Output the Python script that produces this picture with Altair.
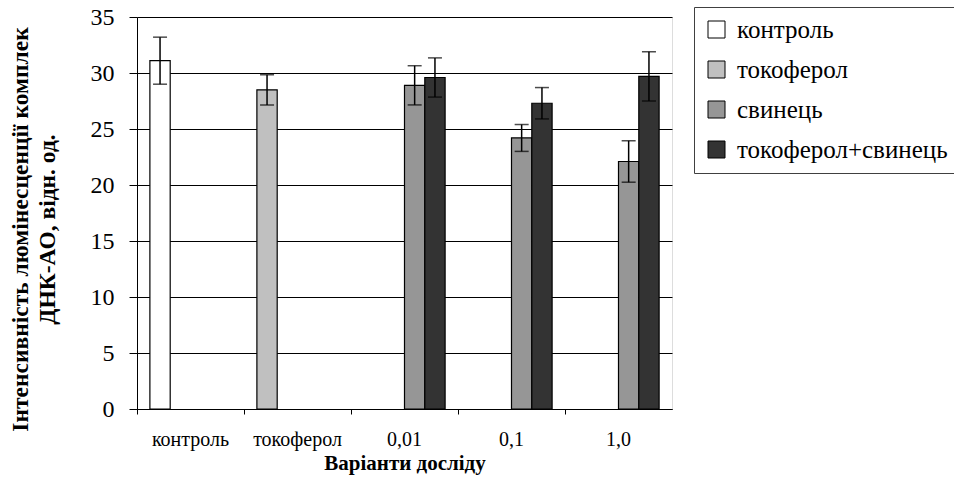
import altair as alt
import pandas as pd

# ---- data ----
categories = ["контроль", "токоферол", "0,01", "0,1", "1,0"]
series_names = ["контроль", "токоферол", "свинець", "токоферол+свинець"]
series_colors = ["#FFFFFF", "#C0C0C0", "#969696", "#333333"]
slot_names = ["a", "b", "c", "d"]

bar_category = ["контроль", "токоферол", "0,01", "0,01", "0,1", "0,1", "1,0", "1,0"]
bar_series = ["контроль", "токоферол", "свинець", "токоферол+свинець",
              "свинець", "токоферол+свинець", "свинець", "токоферол+свинець"]
bar_slot = ["a", "a", "c", "d", "c", "d", "c", "d"]
bar_value = [31.1, 28.5, 28.9, 29.6, 24.2, 27.3, 22.1, 29.7]
bar_error = [2.1, 1.35, 1.75, 1.75, 1.2, 1.4, 1.85, 2.2]

y_ticks = [0, 5, 10, 15, 20, 25, 30, 35]
y_title = ["Інтенсивність люмінесценції комплек", "ДНК-АО, відн. од."]
x_title = "Варіанти досліду"

df = pd.DataFrame({
    "cat": bar_category,
    "series": bar_series,
    "slot": bar_slot,
    "value": bar_value,
    "err": bar_error,
})
df["lo"] = df["value"] - df["err"]
df["hi"] = df["value"] + df["err"]

FONT = "Liberation Serif, Times New Roman, serif"

yscale = alt.Scale(domain=[0, 35], nice=False, zero=True)
yaxis = alt.Axis(
    values=y_ticks, grid=True, gridColor="#000000", gridWidth=1,
    tickSize=8, tickColor="#000000", domainColor="#000000",
    labelFont=FONT, labelFontSize=24, labelPadding=15, labelColor="#000000",
    title=y_title, titleFont=FONT, titleFontSize=23.5, titleFontWeight="bold",
    titleColor="#000000", titleAngle=-90, titleAlign="center",
    titleBaseline="alphabetic", titleLineHeight=27, titleX=-110, titleY=212,
)
xaxis = alt.Axis(
    labelAngle=0, bandPosition=0, tickSize=5, tickColor="#000000",
    domainColor="#000000", grid=False,
    labelFont=FONT, labelFontSize=20, labelColor="#000000",
    labelBaseline="alphabetic", labelPadding=31,
    title=x_title, titleFont=FONT, titleFontSize=21, titleFontWeight="bold",
    titleColor="#000000", titleBaseline="alphabetic", titleY=60,
)

base = alt.Chart(df).encode(
    x=alt.X("cat:N", sort=categories,
            scale=alt.Scale(domain=categories, paddingInner=0, paddingOuter=0),
            axis=xaxis),
    xOffset=alt.XOffset("slot:N",
                        scale=alt.Scale(domain=slot_names, paddingInner=0,
                                        paddingOuter=0.635)),
)

bars = base.mark_bar(stroke="#000000", strokeWidth=1.2).encode(
    y=alt.Y("value:Q", scale=yscale, axis=yaxis, title=y_title),
    color=alt.Color(
        "series:N",
        scale=alt.Scale(domain=series_names, range=series_colors),
        legend=alt.Legend(
            title=None, orient="none", legendX=557, legendY=-10,
            direction="vertical", symbolType="square", symbolSize=289,
            symbolStrokeColor="#000000", symbolStrokeWidth=1,
            symbolOpacity=1, labelFont=FONT, labelFontSize=25,
            labelColor="#000000", labelOffset=8, labelLimit=400,
            padding=10, rowPadding=14, strokeColor="#404040",
            fillColor="#FFFFFF",
        ),
    ),
)

rules = base.mark_rule(color="#000000", strokeWidth=1.5).encode(
    y=alt.Y("lo:Q", scale=yscale, axis=yaxis, title=y_title),
    y2="hi:Q",
)
caps_hi = base.mark_tick(color="#000000", thickness=1.5, size=14,
                         orient="horizontal").encode(
    y=alt.Y("hi:Q", scale=yscale, axis=yaxis, title=y_title),
)
caps_lo = base.mark_tick(color="#000000", thickness=1.5, size=14,
                         orient="horizontal").encode(
    y=alt.Y("lo:Q", scale=yscale, axis=yaxis, title=y_title),
)

chart = alt.layer(bars, rules, caps_hi, caps_lo).properties(
    width=535, height=392,
    autosize=alt.AutoSizeParams(type="none"),
    padding={"left": 137, "top": 17, "right": 282, "bottom": 82},
    background="#FFFFFF",
).configure_view(stroke="#808080", strokeWidth=1).configure(
    font=FONT
)

chart.save("out.html", embed_options={"renderer": "svg", "actions": False})
